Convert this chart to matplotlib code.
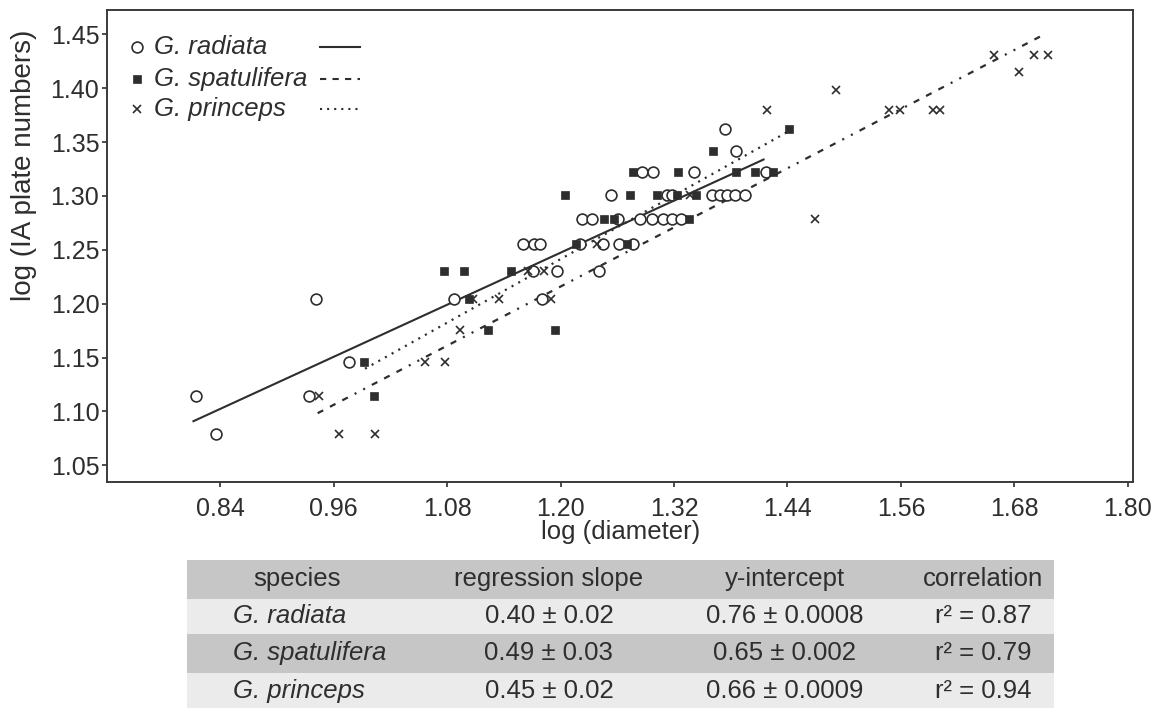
import numpy as np
import matplotlib
matplotlib.use("Agg")
import matplotlib.pyplot as plt

plt.rcParams['font.family'] = ['Liberation Sans', 'DejaVu Sans']
plt.rcParams['lines.scale_dashes'] = False

INK = '#2e2e2e'

# --- data (log10 values) ---
radiata_x = [0.814, 0.835, 0.941, 0.934, 0.976, 1.087, 1.180, 1.171, 1.196, 1.241,
             1.160, 1.172, 1.178, 1.220, 1.245, 1.262, 1.277,
             1.223, 1.233, 1.261, 1.284, 1.297, 1.308, 1.318, 1.327,
             1.253, 1.313, 1.318, 1.360, 1.369, 1.376, 1.384, 1.395,
             1.286, 1.298, 1.341, 1.417,
             1.386, 1.374]
radiata_y = [1.114, 1.079, 1.204, 1.114, 1.146, 1.204, 1.204, 1.230, 1.230, 1.230,
             1.255, 1.255, 1.255, 1.255, 1.255, 1.255, 1.255,
             1.279, 1.279, 1.279, 1.279, 1.279, 1.279, 1.279, 1.279,
             1.301, 1.301, 1.301, 1.301, 1.301, 1.301, 1.301, 1.301,
             1.322, 1.322, 1.322, 1.322,
             1.342, 1.362]

spatulifera_x = [0.992, 1.003, 1.123, 1.194, 1.103, 1.077, 1.098, 1.148,
                 1.216, 1.270,
                 1.246, 1.256, 1.336,
                 1.205, 1.273, 1.302, 1.323, 1.343,
                 1.277, 1.324, 1.386, 1.406, 1.425,
                 1.361, 1.442]
spatulifera_y = [1.146, 1.114, 1.176, 1.176, 1.204, 1.230, 1.230, 1.230,
                 1.255, 1.255,
                 1.279, 1.279, 1.279,
                 1.301, 1.301, 1.301, 1.301, 1.301,
                 1.322, 1.322, 1.322, 1.322, 1.322,
                 1.342, 1.362]

princeps_x = [0.944, 0.966, 1.004, 1.056, 1.078, 1.093, 1.107, 1.135, 1.190,
              1.165, 1.182, 1.239, 1.337, 1.418, 1.469, 1.491, 1.547, 1.559,
              1.594, 1.601, 1.658, 1.685, 1.701, 1.716]
princeps_y = [1.114, 1.079, 1.079, 1.146, 1.146, 1.176, 1.204, 1.204, 1.204,
              1.230, 1.230, 1.255, 1.301, 1.380, 1.279, 1.398, 1.380, 1.380,
              1.380, 1.380, 1.431, 1.415, 1.431, 1.431]

# regression lines as drawn (end points)
radiata_fit_x = [0.8115, 1.4147]
radiata_fit_y = [1.0909, 1.3338]
spatulifera_fit_x = [0.993, 1.442]
spatulifera_fit_y = [1.1396, 1.3604]
princeps_fit_x = [0.9429, 1.7105]
princeps_fit_y = [1.0983, 1.4494]

species = ['G. radiata', 'G. spatulifera', 'G. princeps']
slopes = ['0.40 ± 0.02', '0.49 ± 0.03', '0.45 ± 0.02']
intercepts = ['0.76 ± 0.0008', '0.65 ± 0.002', '0.66 ± 0.0009']
correlations = ['r² = 0.87', 'r² = 0.79', 'r² = 0.94']
headers = ['species', 'regression slope', 'y-intercept', 'correlation']

x_ticks = [0.84, 0.96, 1.08, 1.20, 1.32, 1.44, 1.56, 1.68, 1.80]
y_ticks = [1.05, 1.10, 1.15, 1.20, 1.25, 1.30, 1.35, 1.40, 1.45]

FS = 18.5

fig = plt.figure(figsize=(11.64, 7.09), dpi=100)
ax = fig.add_axes([0.0919, 0.3195, 0.8818, 0.6664])

# points
ax.plot(radiata_x, radiata_y, 'o', ms=7.8, mfc='white', mec=INK, mew=1.2, ls='none', zorder=3)
ax.plot(spatulifera_x, spatulifera_y, 's', ms=6.2, mfc=INK, mec=INK, mew=0.5, ls='none', zorder=3)
ax.plot(princeps_x, princeps_y, 'x', ms=5.8, mec=INK, mew=1.2, ls='none', zorder=3)

# regression lines
ax.plot(radiata_fit_x, radiata_fit_y, '-', color=INK, lw=1.5, zorder=2)
ax.plot(spatulifera_fit_x, spatulifera_fit_y, color=INK, lw=1.6,
        ls=(0, (1.5, 4.0)), zorder=2)
ax.plot(princeps_fit_x, princeps_fit_y, color=INK, lw=1.6,
        ls=(0, (4.5, 5.5, 4.5, 5.5, 4.5, 5.5, 1.5, 5.5, 1.5, 5.5)), zorder=2)

ax.set_xlim(0.72, 1.806)
ax.set_ylim(1.034, 1.4726)
ax.set_xticks(x_ticks)
ax.set_xticklabels([f'{v:.2f}' for v in x_ticks])
ax.set_yticks(y_ticks)
ax.set_yticklabels([f'{v:.2f}' for v in y_ticks])
ax.tick_params(axis='x', direction='out', length=3.5, width=1.2, colors=INK,
               labelsize=18, pad=7)
ax.tick_params(axis='y', direction='out', length=3.5, width=1.2, colors=INK,
               labelsize=18, pad=2)
for s in ax.spines.values():
    s.set_linewidth(1.4)
    s.set_color('#3a3a3a')

ax.set_xlabel('log (diameter)', fontsize=FS, color=INK, labelpad=-0.5)
ax.set_ylabel('log (IA plate numbers)', fontsize=20, color=INK)
ax.yaxis.set_label_coords(-0.068, 0.672)

# legend: marker, name, line sample
leg_rows = [0.9217, 0.8550, 0.7905]
leg_markers = [dict(marker='o', ms=7.8, mfc='white', mec=INK, mew=1.2),
               dict(marker='s', ms=6.2, mfc=INK, mec=INK, mew=0.5),
               dict(marker='x', ms=5.8, mec=INK, mew=1.2)]
leg_styles = ['-', (0, (4.5, 4.5)), (0, (1.5, 3.6))]
for yy, name, mk, lsty in zip(leg_rows, species, leg_markers, leg_styles):
    ax.plot([0.029], [yy], ls='none', transform=ax.transAxes, **mk)
    ax.text(0.046, yy, name, transform=ax.transAxes, fontsize=FS, style='italic',
            color=INK, va='center', ha='left')
    ax.plot([0.2076, 0.2466], [yy, yy], color=INK, lw=1.5, ls=lsty,
            transform=ax.transAxes)

# table (row edges in table-axes units, header on top)
tax = fig.add_axes([0.1609, 0.0014, 0.7446, 0.2088])
tax.set_xlim(0, 1)
tax.set_ylim(0, 148)
tax.axis('off')
row_edges = [148, 109, 74, 35, 0]
row_colors = ['#c6c6c6', '#ebebeb', '#c6c6c6', '#ebebeb']
for i, c in enumerate(row_colors):
    tax.axhspan(row_edges[i + 1], row_edges[i], color=c, lw=0)
mids = [(row_edges[i] + row_edges[i + 1]) / 2 for i in range(4)]
col_x = [0.1266, 0.4172, 0.6895, 0.918]
for cx, h in zip(col_x, headers):
    tax.text(cx, mids[0], h, ha='center', va='center', fontsize=FS, color=INK)
for i in range(3):
    yy = mids[i + 1]
    tax.text(0.0527, yy, species[i], ha='left', va='center', fontsize=FS,
             style='italic', color=INK)
    tax.text(col_x[1], yy, slopes[i], ha='center', va='center', fontsize=FS, color=INK)
    tax.text(col_x[2], yy, intercepts[i], ha='center', va='center', fontsize=FS, color=INK)
    tax.text(col_x[3], yy, correlations[i], ha='center', va='center', fontsize=FS, color=INK)

fig.savefig('out.png', dpi=100)
